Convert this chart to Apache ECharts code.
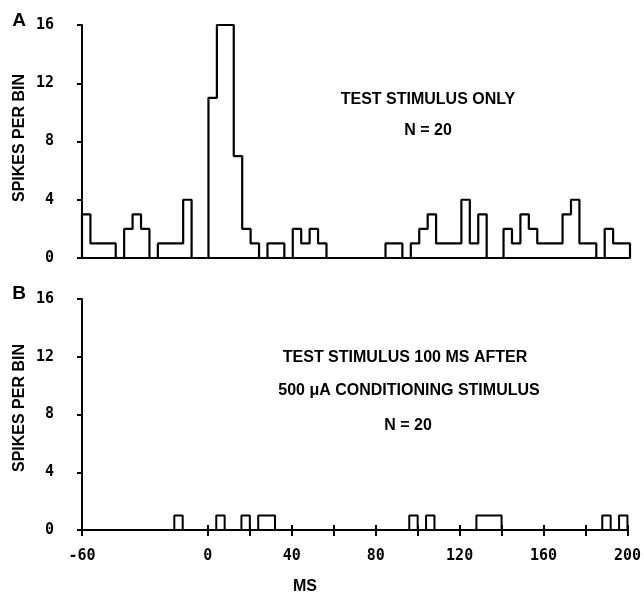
<!DOCTYPE html>
<html><head><meta charset="utf-8">
<script src="https://cdn.jsdelivr.net/npm/echarts@6/dist/echarts.min.js"></script>
<style>html,body{margin:0;padding:0;background:#fff}#c{width:644px;height:593px}</style>
</head><body><div id="c"></div>
<script>
// Histogram bins: 4 ms wide, starting at -60 ms
const binStartMs = -60;
const binWidthMs = 4;
// Panel A: test stimulus only (spikes per bin)
const countsA = [3,1,1,1,0, 2,3,2,0,1, 1,1,4,0,0, 11,16,16,7,2, 1,0,1,1,0, 2,1,2,1,0,
                 0,0,0,0,0, 0,1,1,0,1, 2,3,1,1,1, 4,1,3,0,0, 2,1,3,2,1, 1,1,3,4,1, 1,0,2,1,1];
// Panel B: test stimulus 100 ms after 500 uA conditioning stimulus
const countsB = [0,0,0,0,0, 0,0,0,0,0, 0,1,0,0,0, 0,1,0,0,1, 0,1,1,0,0, 0,0,0,0,0,
                 0,0,0,0,0, 0,0,0,0,1, 0,1,0,0,0, 0,0,1,1,1, 0,0,0,0,0, 0,0,0,0,0, 0,0,1,0,1];
const yTicks = [0,4,8,12,16];
const xTickValues = [-60,0,20,40,60,80,100,120,140,160,180,200];
const xLabelValues = [-60,0,40,80,120,160,200];
const yAxisTitle = 'SPIKES PER BIN';
const xAxisTitle = 'MS';
const panelAText = ['TEST STIMULUS ONLY', 'N = 20'];
const panelBText = ['TEST STIMULUS 100 MS AFTER', '500 \u03bcA CONDITIONING STIMULUS', 'N = 20'];

function stepPoints(counts){
  const pts = [[binStartMs, 0]];
  counts.forEach((c,i)=>pts.push([binStartMs + i*binWidthMs, c]));
  const end = binStartMs + counts.length*binWidthMs;
  pts.push([end, counts[counts.length-1]]);
  pts.push([end, 0]);
  return pts;
}

const monoFont = '"DejaVu Sans Mono"';
const sansFont = '"Liberation Sans", Arial, sans-serif';
const black = '#000';

function yAxisFor(gi){
  return {
    type:'value', gridIndex:gi, min:0, max:16, interval:4,
    axisLine:{show:true, onZero:false, lineStyle:{color:black, width:2}},
    axisTick:{show:true, inside:false, length:5, lineStyle:{color:black, width:2}},
    axisLabel:{show:true, margin:28, color:black, fontFamily:monoFont, fontWeight:'bold', fontSize:15, padding:[0,0,5,0]},
    splitLine:{show:false}
  };
}
function txt(s, x, y, size, rot){
  return {type:'text', x:x, y:y, rotation:rot||0,
    style:{text:s, font:'bold '+size+'px '+sansFont, fill:black,
           textAlign:'center', textVerticalAlign:'middle', align:'center', verticalAlign:'middle'}};
}

const option = {
  animation:false,
  backgroundColor:'#fff',
  grid:[
    {left:82, top:25, width:548, height:233},
    {left:82, top:299, width:548, height:231}
  ],
  xAxis:[
    {type:'value', gridIndex:0, min:-60, max:200, interval:20, position:'bottom',
     axisLine:{show:true, onZero:false, lineStyle:{color:black, width:2}},
     axisTick:{show:false}, axisLabel:{show:false}, splitLine:{show:false}},
    {type:'value', gridIndex:1, min:-60, max:200, interval:20, position:'bottom',
     axisLine:{show:true, onZero:false, lineStyle:{color:black, width:2}},
     axisTick:{show:true, inside:false, length:6, customValues:xTickValues, lineStyle:{color:black, width:2}},
     axisLabel:{show:true, margin:19, customValues:xLabelValues, color:black, fontFamily:monoFont, fontWeight:'bold', fontSize:15},
     splitLine:{show:false}},
    {type:'value', gridIndex:1, min:-60, max:200, interval:20, position:'bottom',
     axisLine:{show:false, onZero:false},
     axisTick:{show:true, inside:true, length:5, customValues:xTickValues, lineStyle:{color:black, width:2}},
     axisLabel:{show:false}, splitLine:{show:false}}
  ],
  yAxis:[ yAxisFor(0), yAxisFor(1) ],
  series:[
    {type:'line', xAxisIndex:0, yAxisIndex:0, step:'end', symbol:'none', data:stepPoints(countsA),
     lineStyle:{color:black, width:2.2}, silent:true},
    {type:'line', xAxisIndex:1, yAxisIndex:1, step:'end', symbol:'none', data:stepPoints(countsB),
     lineStyle:{color:black, width:2}, silent:true}
  ],
  graphic:[
    txt('A', 19, 21, 19),
    txt('B', 19, 294, 19),
    txt(yAxisTitle, 20, 138, 16, Math.PI/2),
    txt(yAxisTitle, 20, 408, 16, Math.PI/2),
    txt(panelAText[0], 428, 100, 16),
    txt(panelAText[1], 428, 131, 16),
    txt(panelBText[0], 405, 358, 16),
    txt(panelBText[1], 409, 391, 16),
    txt(panelBText[2], 408, 426, 16),
    txt(xAxisTitle, 305, 587, 16)
  ]
};
const chart = echarts.init(document.getElementById('c'), null, {renderer:'canvas'});
chart.setOption(option);
</script>
</body></html>
